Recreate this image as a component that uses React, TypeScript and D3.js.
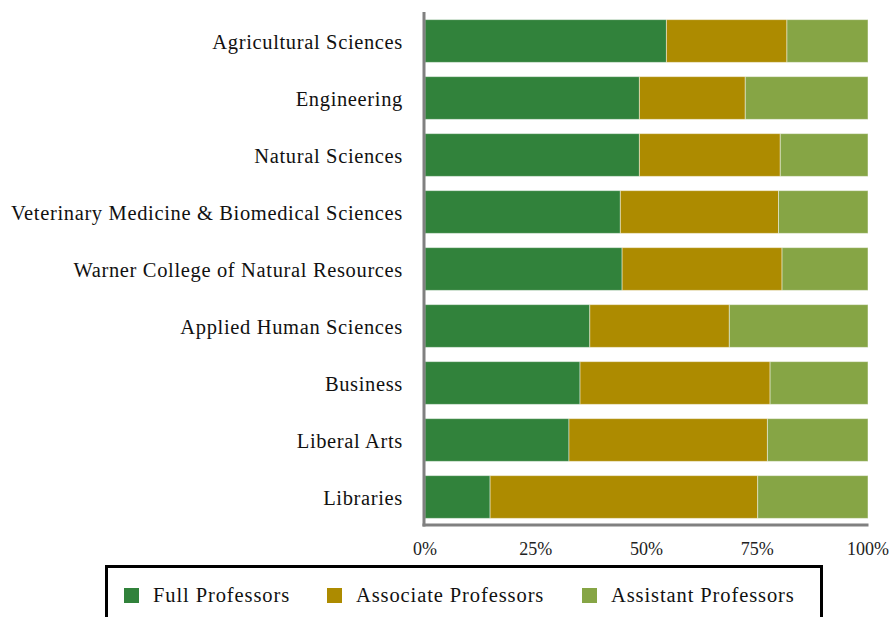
import React from "react";
import * as d3 from "d3";

const categories = [
  "Agricultural Sciences",
  "Engineering",
  "Natural Sciences",
  "Veterinary Medicine & Biomedical Sciences",
  "Warner College of Natural Resources",
  "Applied Human Sciences",
  "Business",
  "Liberal Arts",
  "Libraries",
];
const fullProfessors = [54.5, 48.4, 48.4, 44.1, 44.5, 37.2, 35.0, 32.5, 14.7];
const associateProfessors = [27.2, 23.9, 31.8, 35.7, 36.1, 31.5, 42.9, 44.8, 60.4];
const assistantProfessors = [18.3, 27.7, 19.8, 20.2, 19.4, 31.3, 22.1, 22.7, 24.9];
const seriesNames = ["Full Professors", "Associate Professors", "Assistant Professors"];
const seriesColors = ["#31823B", "#AD8B00", "#86A545"];
const tickValues = [0, 25, 50, 75, 100];

const W = 892;
const H = 617;
const FONT = "'Liberation Serif', 'Times New Roman', serif";

export default function App() {
  const x = d3.scaleLinear().domain([0, 100]).range([425, 868]);
  const y = d3
    .scaleBand<string>()
    .domain(categories)
    .range([12.5, 525.5])
    .paddingInner(0.25)
    .paddingOuter(0.125);

  const rows = categories.map((c, i) => ({
    cat: c,
    full: fullProfessors[i],
    assoc: associateProfessors[i],
    assist: assistantProfessors[i],
  }));
  const stack = d3.stack<any>().keys(["full", "assoc", "assist"]).offset(d3.stackOffsetExpand);
  const series = stack(rows);

  const legendX = [124, 327, 582];

  return (
    <svg
      width={W}
      height={H}
      style={{ position: "absolute", left: 0, top: 0 }}
      fontFamily={FONT}
    >
      <rect x={0} y={0} width={W} height={H} fill="#fff" />
      {series.map((s, si) =>
        s.map((d, i) => (
          <rect
            key={`${si}-${i}`}
            x={x(d[0] * 100)}
            width={x(d[1] * 100) - x(d[0] * 100)}
            y={y(categories[i])!}
            height={y.bandwidth()}
            fill={seriesColors[si]}
            stroke="rgba(255,255,255,0.45)"
            strokeWidth={1}
          />
        ))
      )}
      {/* axes */}
      <line x1={424} x2={424} y1={12} y2={526.5} stroke="#808080" strokeWidth={3} />
      <line x1={422.5} x2={868.5} y1={525} y2={525} stroke="#808080" strokeWidth={3} />
      {categories.map((c) => (
        <text
          key={c}
          x={403}
          y={y(c)! + y.bandwidth() / 2}
          dy="0.38em"
          textAnchor="end"
          fontSize={20.5}
          letterSpacing={0.65}
          fill="#111"
        >
          {c}
        </text>
      ))}
      {tickValues.map((t) => (
        <text key={t} x={x(t)} y={555} textAnchor="middle" fontSize={18} fill="#222">
          {t}%
        </text>
      ))}
      {/* legend */}
      <rect x={106.5} y={566.5} width={715} height={60} fill="#fff" stroke="#000" strokeWidth={3} />
      {seriesNames.map((n, i) => (
        <g key={n}>
          <rect x={legendX[i]} y={588} width={15} height={15} fill={seriesColors[i]} />
          <text x={legendX[i] + 29} y={602} fontSize={20.5} letterSpacing={0.9} fill="#111">
            {n}
          </text>
        </g>
      ))}
    </svg>
  );
}
